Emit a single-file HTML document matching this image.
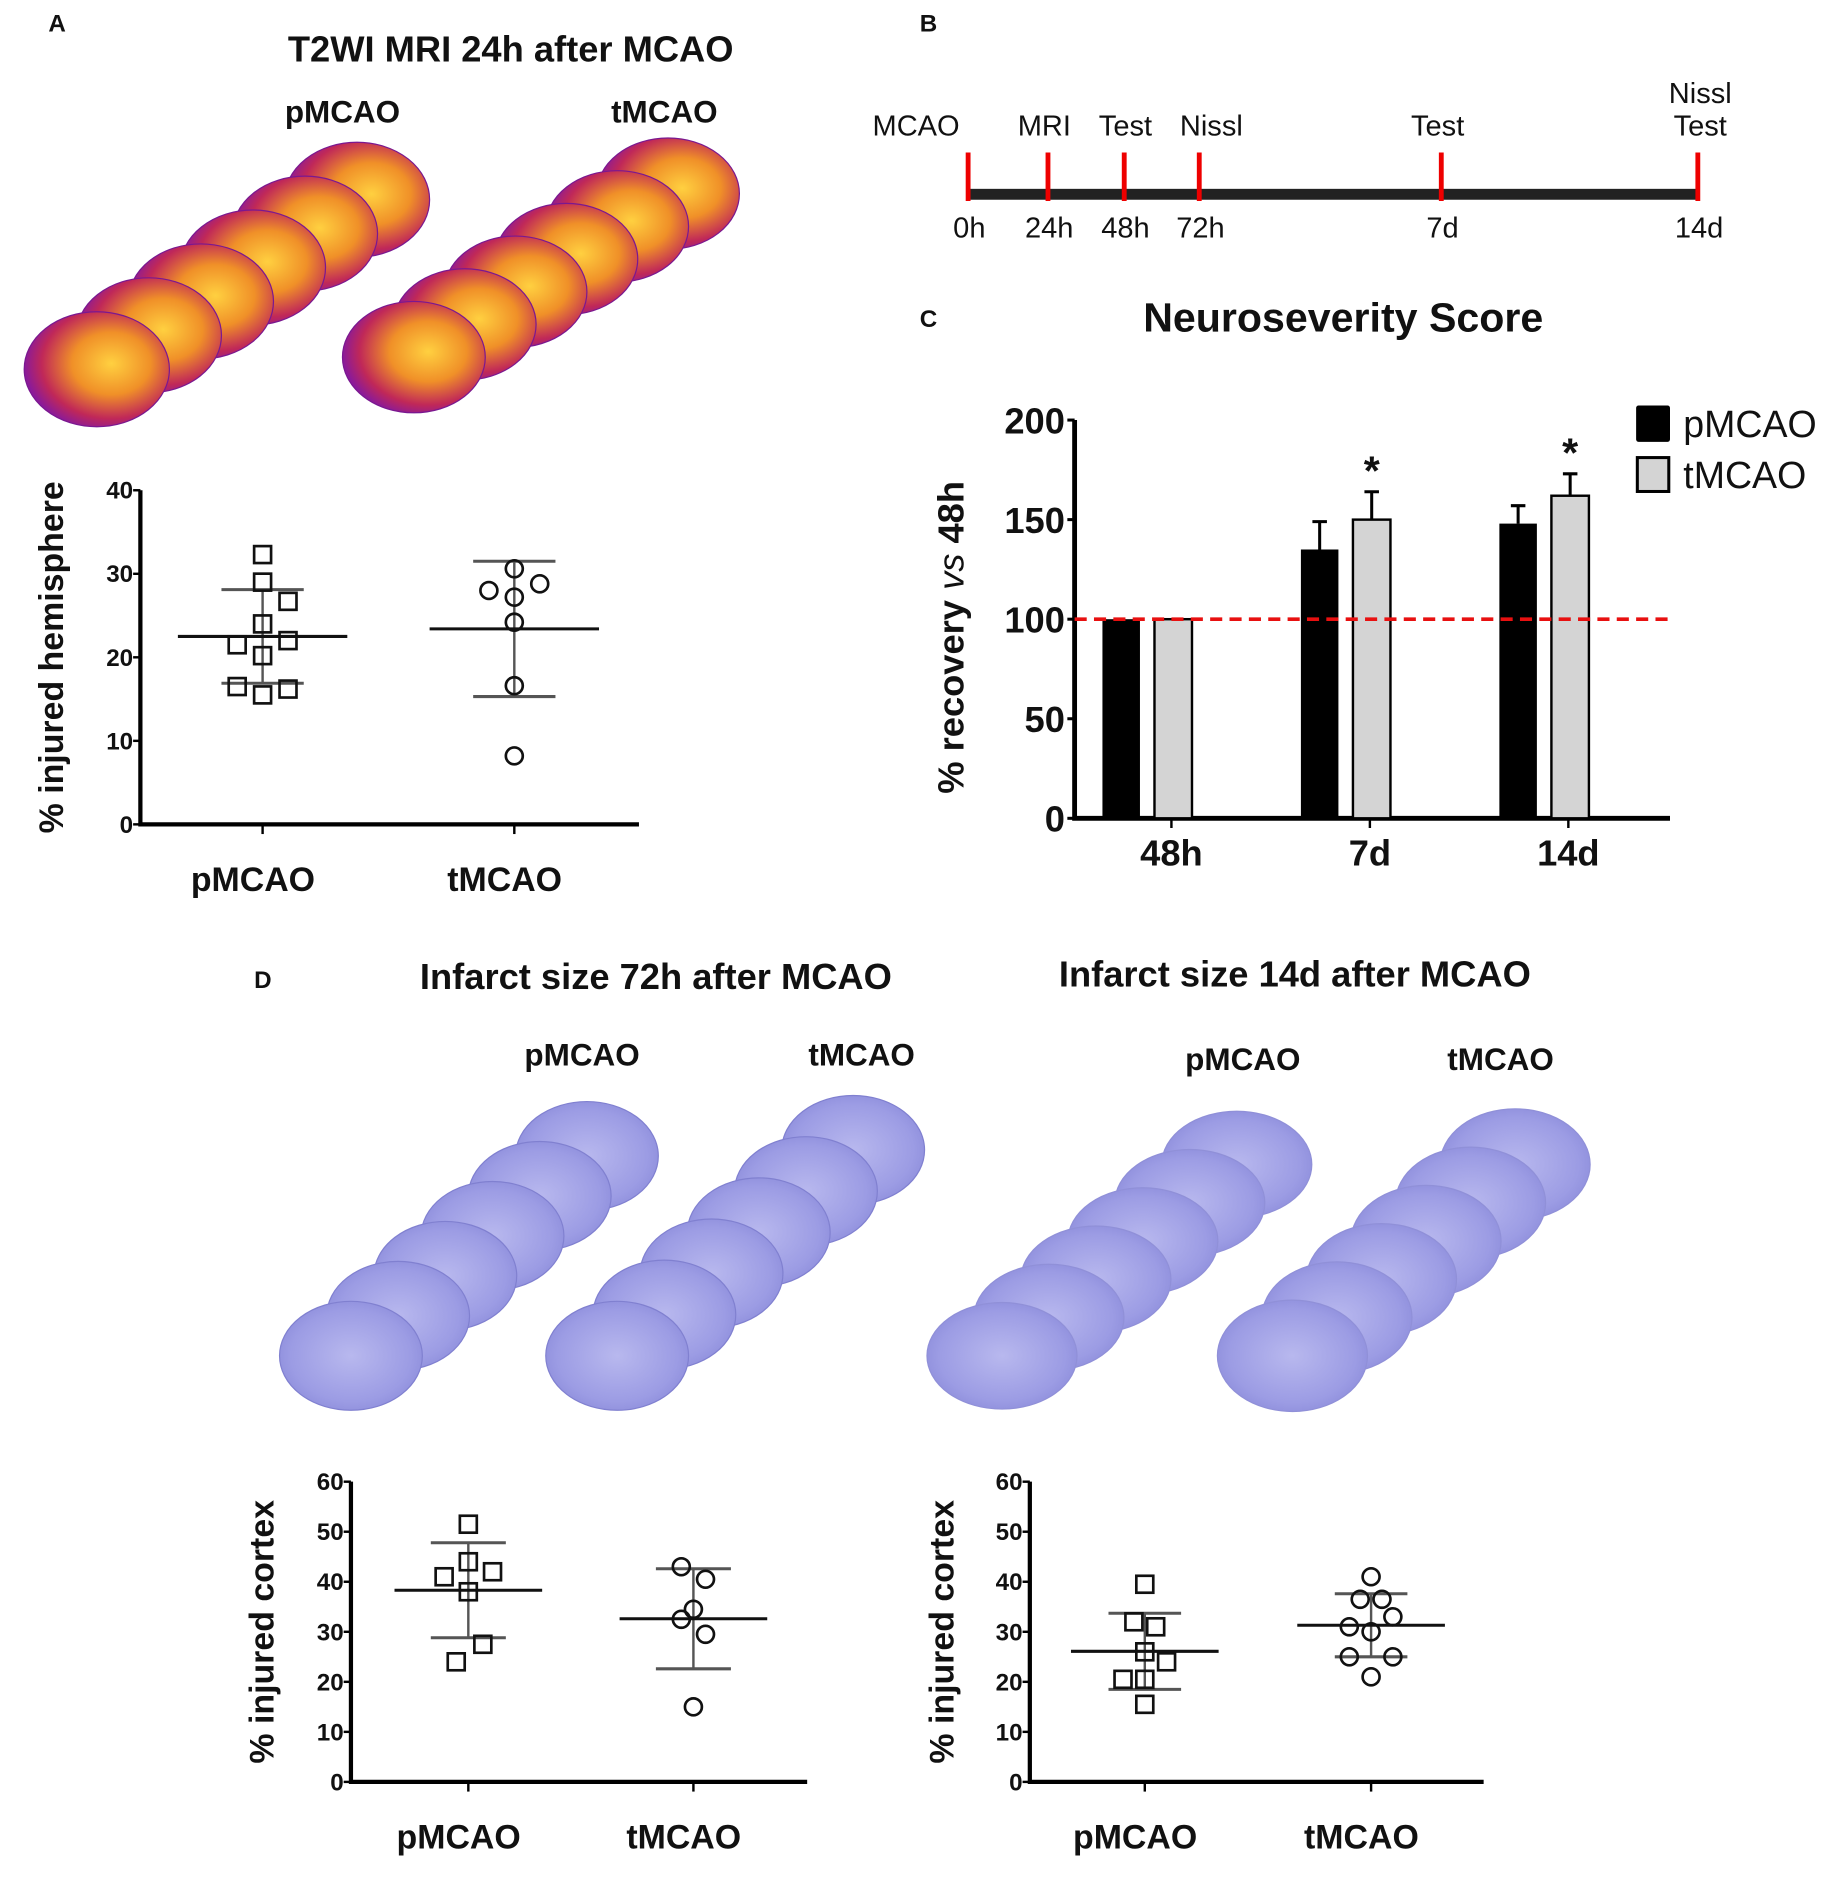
<!DOCTYPE html>
<html><head><meta charset="utf-8">
<style>
html,body{margin:0;padding:0;background:#fff;}
svg{display:block;}
text{font-family:"Liberation Sans",sans-serif;fill:#111;}
</style></head>
<body>
<svg id="fig" width="1837" height="1886" viewBox="0 0 1518 1558" preserveAspectRatio="none" xmlns="http://www.w3.org/2000/svg">
<defs>
<radialGradient id="mri" cx="0.6" cy="0.45" r="0.6">
<stop offset="0" stop-color="#ffd040"/><stop offset="0.45" stop-color="#f09028"/><stop offset="0.8" stop-color="#c02858"/><stop offset="1" stop-color="#8a1a9a"/>
</radialGradient>
<radialGradient id="nissl" cx="0.5" cy="0.5" r="0.6">
<stop offset="0" stop-color="#b8b8ee"/><stop offset="0.7" stop-color="#9c9ce4"/><stop offset="1" stop-color="#8888d8"/>
</radialGradient>
</defs>
<g id="mri-images"></g>
<g id="nissl-images"></g>
<text x="40" y="26" font-size="20" font-weight="bold">A</text>
<text x="422" y="51" font-size="30" font-weight="bold" text-anchor="middle">T2WI MRI 24h after MCAO</text>
<text x="283" y="101" font-size="26" font-weight="bold" text-anchor="middle">pMCAO</text>
<text x="549" y="101" font-size="26" font-weight="bold" text-anchor="middle">tMCAO</text>

<text x="760" y="26" font-size="20" font-weight="bold">B</text>
<g id="timeline"></g>

<text x="760" y="270" font-size="20" font-weight="bold">C</text>
<text x="1110" y="274" font-size="34" font-weight="bold" text-anchor="middle">Neuroseverity Score</text>
<g id="barchart"></g>

<text x="210" y="816" font-size="20" font-weight="bold">D</text>
<text x="542" y="817" font-size="30" font-weight="bold" text-anchor="middle">Infarct size 72h after MCAO</text>
<text x="1070" y="815" font-size="30" font-weight="bold" text-anchor="middle">Infarct size 14d after MCAO</text>
<text x="481" y="880" font-size="26" font-weight="bold" text-anchor="middle">pMCAO</text>
<text x="712" y="880" font-size="26" font-weight="bold" text-anchor="middle">tMCAO</text>
<text x="1027" y="884" font-size="26" font-weight="bold" text-anchor="middle">pMCAO</text>
<text x="1240" y="884" font-size="26" font-weight="bold" text-anchor="middle">tMCAO</text>
<g id="scatterA"></g>
<g id="scatterD1"></g>
<g id="scatterD2"></g>
</svg>
<script>
// ---- Data ----
const groups = ["pMCAO","tMCAO"];
const hemiP = [32.3,29,26.7,24,21.5,22,20.2,16.5,15.5,16.2];
const hemiPoff = [0,0,1,0,-1,1,0,-1,0,1];
const hemiT = [30.6,28,28.8,27.2,24.2,16.6,8.2];
const hemiToff = [0,-1,1,0,0,0,0];
const hemiMean = [22.5,23.4];
const hemiSD = [5.6,8.1];
const hemiTicks = [0,10,20,30,40];

const c72P = [51.5,44,41,42,38,27.5,24];
const c72Poff = [0,0,-1,1,0,0.6,-0.5];
const c72T = [43,40.5,34.5,32.5,29.5,15];
const c72Toff = [-0.5,0.5,0,-0.5,0.5,0];
const c72Mean = [38.3,32.6];
const c72SD = [9.5,10];
const c14P = [39.5,32,31,26,24,20.5,20.5,15.5];
const c14Poff = [0,-0.5,0.5,0,1,-1,0,0];
const c14T = [41,36.5,36.5,33,31,30,25,25,21];
const c14Toff = [0,-0.5,0.5,1,-1,0,-1,1,0];
const c14Mean = [26.1,31.3];
const c14SD = [7.6,6.3];
const cortexTicks = [0,10,20,30,40,50,60];

const timeCats = ["0h","24h","48h","72h","7d","14d"];
const timeHours = [0,24,48,72,168,336];
const timeEvents = ["MCAO","MRI","Test","Nissl","Test","Nissl|Test"];

const barCats = ["48h","7d","14d"];
const barP = [100,135,148];
const barT = [100,150,162];
const errP = [0,14,9];
const errT = [0,14,11];
const sig = [false,true,true];
const barTicks = [0,50,100,150,200];

const NS="http://www.w3.org/2000/svg";
function mk(parent,tag,attrs,text){
  const e=document.createElementNS(NS,tag);
  for(const k in attrs) e.setAttribute(k,attrs[k]);
  if(text!==undefined) e.textContent=text;
  parent.appendChild(e); return e;
}

// ---- brain images ----
const mri=document.getElementById('mri-images');
function stack(g,x0,y0,x1,y1,n,w,h,fill,stroke){
  const dx=(x1-x0)/(n-1),dy=(y1-y0)/(n-1);
  for(let i=n-1;i>=0;i--){
    const e=mk(g,'ellipse',{cx:x0+i*dx,cy:y0+i*dy,rx:w/2,ry:h/2,fill:fill,stroke:stroke,'stroke-width':1});
    
    
  }
}
stack(mri,80,305,295,165,6,120,95,'url(#mri)','#7a1890');
stack(mri,342,295,552,160,6,118,92,'url(#mri)','#7a1890');
const nis=document.getElementById('nissl-images');
stack(nis,290,1120,485,955,6,118,90,'url(#nissl)','#8080d0');
stack(nis,510,1120,705,950,6,118,90,'url(#nissl)','#8080d0');
stack(nis,828,1120,1022,962,6,124,88,'url(#nissl)','#9090d8');
stack(nis,1068,1120,1252,962,6,124,92,'url(#nissl)','#9090d8');

// ---- timeline ----
const tl=document.getElementById('timeline');
const tX0=800,tX1=1403;
const tickX=[800,866,929,991,1191,1403];
const evX=[757,863,930,1001,1188,1405];
const bar=mk(tl,'rect',{x:tX0,y:156,width:tX1-tX0,height:9,fill:'#222'});


timeHours.forEach((h,i)=>{
  const x=tickX[i];
  const t=mk(tl,'line',{x1:x,x2:x,y1:126,y2:166,stroke:'#e00',"stroke-width":4});
  
  
  const lb=mk(tl,'text',{x:x+1,y:196,"font-size":24,"text-anchor":"middle"},timeCats[i]);
  
  
  const ev=timeEvents[i].split('|');
  ev.forEach((s,j)=>{
    const el=mk(tl,'text',{x:evX[i],y:112-(ev.length-1-j)*27,"font-size":24,"text-anchor":"middle"},s);
    
    
  });
});

// ---- scatter charts ----
function scatter(gid,cfg){
  const g=document.getElementById(gid);
  const y=v=>cfg.y0-(v/cfg.max)*(cfg.y0-cfg.yTop);
  const ax=mk(g,'path',{d:`M${cfg.ax} ${cfg.yTop} V${cfg.y0} H${cfg.axR}`,fill:'none',stroke:'#000','stroke-width':3.5});
  
  
  cfg.ticks.forEach(v=>{
    mk(g,'line',{x1:cfg.ax-6,x2:cfg.ax,y1:y(v),y2:y(v),stroke:'#000','stroke-width':2});
    const t=mk(g,'text',{x:cfg.ax-6,y:y(v)+7,"font-size":20,"font-weight":"bold","text-anchor":"end"},v);
    
    
  });
  const yt=mk(g,'text',{x:0,y:0,"font-size":cfg.titleSize,"font-weight":"bold","text-anchor":"middle",transform:`translate(${cfg.titleX},${(cfg.y0+cfg.yTop)/2}) rotate(-90)`},cfg.title);
  
  
  groups.forEach((gn,gi)=>{
    const cx=cfg.cx[gi];
    mk(g,'line',{x1:cx,x2:cx,y1:cfg.y0,y2:cfg.y0+8,stroke:'#000','stroke-width':2});
    const lb=mk(g,'text',{x:cx-8,y:cfg.y0+55,"font-size":28,"font-weight":"bold","text-anchor":"middle"},gn);
    
    
    const m=cfg.mean[gi],sd=cfg.sd[gi];
    const eb=mk(g,'line',{x1:cx,x2:cx,y1:y(m+sd),y2:y(m-sd),stroke:'#555','stroke-width':2});
    
    
    [m+sd,m-sd].forEach(v=>{
      const c=mk(g,'line',{x1:cx-cfg.cap,x2:cx+cfg.cap,y1:y(v),y2:y(v),stroke:'#555','stroke-width':2.5});
      
      
    });
    const ml=mk(g,'line',{x1:cx-cfg.mw,x2:cx+cfg.mw,y1:y(m),y2:y(m),stroke:'#111','stroke-width':2.5});
    
    
    const vals=cfg.vals[gi],offs=cfg.offs[gi];
    vals.forEach((v,i)=>{
      const px=cx+offs[i]*cfg.spread,py=y(v);
      let p;
      if(gi===0) p=mk(g,'rect',{x:px-7,y:py-7,width:14,height:14,fill:'none',stroke:'#111','stroke-width':2.2});
      else p=mk(g,'circle',{cx:px,cy:py,r:7,fill:'none',stroke:'#111','stroke-width':2.2});
      
      
    });
  });
}
scatter('scatterA',{ax:116,axR:528,yTop:405,y0:681,max:40,ticks:hemiTicks,cx:[217,425],mean:hemiMean,sd:hemiSD,
  vals:[hemiP,hemiT],offs:[hemiPoff,hemiToff],spread:21,cap:34,mw:70,title:"% injured hemisphere",titleX:52,titleSize:28});
scatter('scatterD1',{ax:290,axR:667,yTop:1224,y0:1472,max:60,ticks:cortexTicks,cx:[387,573],mean:c72Mean,sd:c72SD,
  vals:[c72P,c72T],offs:[c72Poff,c72Toff],spread:20,cap:31,mw:61,title:"% injured cortex",titleX:226,titleSize:28});
scatter('scatterD2',{ax:851,axR:1226,yTop:1224,y0:1472,max:60,ticks:cortexTicks,cx:[946,1133],mean:c14Mean,sd:c14SD,
  vals:[c14P,c14T],offs:[c14Poff,c14Toff],spread:18,cap:30,mw:61,title:"% injured cortex",titleX:788,titleSize:28});

// ---- bar chart ----
(function(){
  const g=document.getElementById('barchart');
  const ax=888,axR=1380,yTop=347,y0=676,max=200;
  const y=v=>y0-(v/max)*(y0-yTop);
  const cx=[948,1112,1276];
  const bw=31,gap=12;
  const a=mk(g,'path',{d:`M${ax} ${yTop} V${y0} H${axR}`,fill:'none',stroke:'#000','stroke-width':4});
  
  
  barTicks.forEach(v=>{
    mk(g,'line',{x1:ax-6,x2:ax,y1:y(v),y2:y(v),stroke:'#000','stroke-width':2.5});
    const t=mk(g,'text',{x:ax-8,y:y(v)+11,"font-size":30,"font-weight":"bold","text-anchor":"end"},v);
    
    
  });
  const yt=mk(g,'text',{x:0,y:0,"font-size":30,"font-weight":"bold","text-anchor":"middle",transform:`translate(796,${(y0+yTop)/2+15}) rotate(-90)`});
  
  
  mk(yt,'tspan',{},'% recovery ');
  mk(yt,'tspan',{"font-style":"italic","font-weight":"normal"},'vs');
  mk(yt,'tspan',{},' 48h');
  barCats.forEach((c,i)=>{
    const xc=cx[i];
    const x1=xc-gap/2-bw, x2=xc+gap/2;
    mk(g,'line',{x1:xc+20,x2:xc+20,y1:y0,y2:y0+8,stroke:'#000','stroke-width':2});
    const lb=mk(g,'text',{x:xc+20,y:y0+39,"font-size":30,"font-weight":"bold","text-anchor":"middle"},c);
    
    
    if(errP[i]>0){
      const e1=mk(g,'path',{d:`M${x1+bw/2} ${y(barP[i])} V${y(barP[i]+errP[i])} M${x1+bw/2-6} ${y(barP[i]+errP[i])} H${x1+bw/2+6}`,stroke:'#000','stroke-width':2.5,fill:'none'});
      
      
    }
    if(errT[i]>0){
      const e2=mk(g,'path',{d:`M${x2+bw/2} ${y(barT[i])} V${y(barT[i]+errT[i])} M${x2+bw/2-6} ${y(barT[i]+errT[i])} H${x2+bw/2+6}`,stroke:'#000','stroke-width':2.5,fill:'none'});
      
      
    }
    const b1=mk(g,'rect',{x:x1,y:y(barP[i]),width:bw,height:y0-y(barP[i]),fill:'#000'});
    
    
    const b2=mk(g,'rect',{x:x2,y:y(barT[i]),width:bw,height:y0-y(barT[i]),fill:'#d4d4d4',stroke:'#000','stroke-width':2});
    
    
    if(sig[i]){
      const s=mk(g,'text',{x:x2+bw/2,y:y(barT[i]+errT[i])-6,"font-size":34,"font-weight":"bold","text-anchor":"middle"},'*');
      
      
    }
  });
  const rl=mk(g,'line',{x1:ax,x2:1383,y1:y(100),y2:y(100),stroke:'#e81010','stroke-width':3,'stroke-dasharray':'10 6'});
  
  
  const l1=mk(g,'rect',{x:1352,y:335,width:28,height:30,fill:'#000',rx:2});
  
  
  const l2=mk(g,'rect',{x:1353,y:378,width:26,height:28,fill:'#d4d4d4',stroke:'#000','stroke-width':2.5});
  
  
  const t1=mk(g,'text',{x:1391,y:361,"font-size":31},'pMCAO');
  
  
  const t2=mk(g,'text',{x:1391,y:403,"font-size":31},'tMCAO');
  
  
})();
</script>
</body></html>
